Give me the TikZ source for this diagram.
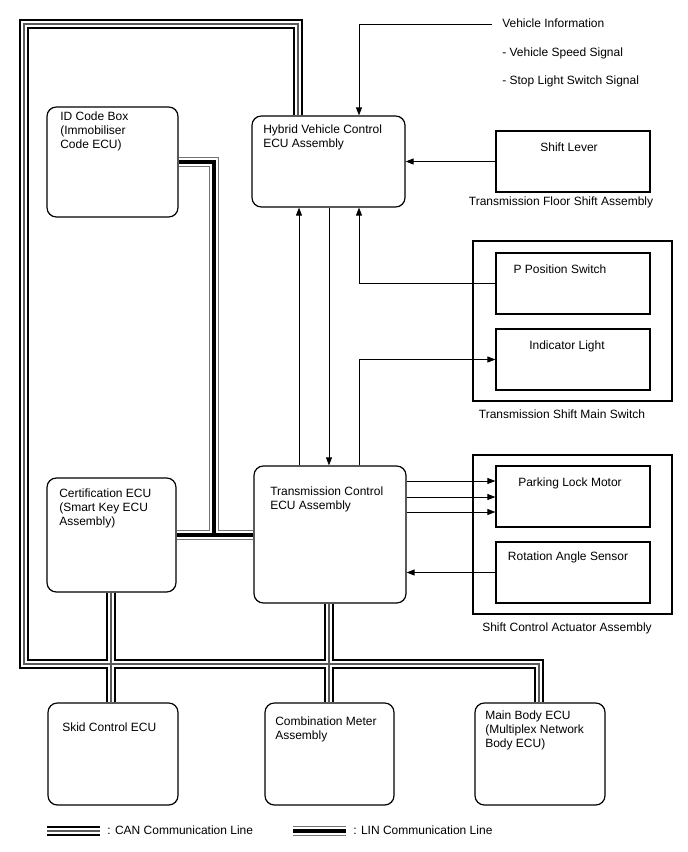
\documentclass[tikz,border=0pt]{standalone}
\usepackage{fontspec}
\setmainfont{Liberation Sans}
\usetikzlibrary{arrows.meta,fit,backgrounds}
\begin{document}
\begin{tikzpicture}[x=0.75pt,y=-0.75pt,
  ecu/.style={draw,line width=0.9pt,rounded corners=7pt,fill=white,inner sep=0pt},
  part/.style={draw,line width=0.9pt,fill=white,inner sep=0pt},
  grp/.style={draw,line width=0.9pt,inner sep=0pt},
  txt/.style={font=\fontsize{9}{10.5}\selectfont,inner sep=0pt,align=left},
  arr/.style={line width=0.6pt,-{Triangle[length=6pt,width=4.5pt]}},
  canout/.style={line width=7.5pt,black},
  canin/.style={line width=4.8pt,white},
  cancen/.style={line width=0.9pt,black!65},
  linout/.style={line width=7.5pt,black!55},
  linin/.style={line width=6pt,white},
  lincen/.style={line width=3.6pt,black},
]
\useasboundingbox (0,0) rectangle (688,852);

% boxes
\node[ecu, fit={(47,107)(178,217)}] (idbox) {};
\node[ecu, fit={(252,116)(405,207)}] (hv) {};
\node[part, fit={(496,131)(650,192)}] (lever) {};
\node[grp, fit={(473,241)(672,401)}] (tsms) {};
\node[part, fit={(496,253)(650,314)}] (pps) {};
\node[part, fit={(496,329)(650,390)}] (ind) {};
\node[ecu, fit={(254,466)(406,603)}] (tcu) {};
\node[ecu, fit={(47,478)(176,592)}] (cert) {};
\node[grp, fit={(473,455)(672,614)}] (scaa) {};
\node[part, fit={(496,466)(650,527)}] (plm) {};
\node[part, fit={(496,542)(650,603)}] (ras) {};
\node[ecu, fit={(48,703)(178,805)}] (skid) {};
\node[ecu, fit={(265,703)(394,805)}] (comb) {};
\node[ecu, fit={(475,703)(605,805)}] (mb) {};

% coordinates
\coordinate (cA) at (298,24);
\coordinate (cB) at (24,24);
\coordinate (cC) at (24,664);
\coordinate (cD) at (539,664);
\coordinate (cE) at (111,0);
\coordinate (cF) at (329,0);
\coordinate (lB) at (214,535);
\coordinate (lgc1) at (47,831);
\coordinate (lgc2) at (100,831);
\coordinate (lgl1) at (293,831);
\coordinate (lgl2) at (346,831);

\begin{scope}[on background layer]
\foreach \s in {canout,canin,cancen}{
  \draw[\s] (cA |- hv.north) -- (cA) -- (cB) -- (cC) -- (cD) -- (cD |- mb.north)
    (cE |- cert.south) -- (cE |- skid.north)
    (cF |- tcu.south) -- (cF |- comb.north)
    (lgc1) -- (lgc2);
}
\foreach \s in {linout,linin,lincen}{
  \draw[\s] (idbox.east) -| (lB)
    (cert.east) -- (tcu.west |- cert.east)
    (lgl1) -- (lgl2);
}
\end{scope}

% texts (base anchor = baseline of the last line)
\node[txt,anchor=base west] (idtxt) at (60,149) {ID Code Box\\(Immobiliser\\Code ECU)};
\node[txt,anchor=base west] (hvtxt) at (263,148) {Hybrid Vehicle Control\\ECU Assembly};
\node[txt,anchor=base west] (certtxt) at (59,525) {Certification ECU\\(Smart Key ECU\\Assembly)};
\node[txt,anchor=base west] (tcutxt) at (270,509) {Transmission Control\\ECU Assembly};
\node[txt,anchor=base west] (skidtxt) at (62,731) {Skid Control ECU};
\node[txt,anchor=base west] (combtxt) at (275,739) {Combination Meter\\Assembly};
\node[txt,anchor=base west] (mbtxt) at (485,747) {Main Body ECU\\(Multiplex Network\\Body ECU)};
\node[txt,anchor=base] (levertxt) at (569,152) {Shift Lever};
\node[txt,anchor=base] (ppstxt) at (560,273) {P Position Switch};
\node[txt,anchor=base] (indtxt) at (567,349) {Indicator Light};
\node[txt,anchor=base] (plmtxt) at (570,486) {Parking Lock Motor};
\node[txt,anchor=base] (rastxt) at (568,560) {Rotation Angle Sensor};
\node[txt,anchor=base] (tfsa) at (561,206) {Transmission Floor Shift Assembly};
\node[txt,anchor=base] (tsmstxt) at (562,418) {Transmission Shift Main Switch};
\node[txt,anchor=base] (scaatxt) at (567,631) {Shift Control Actuator Assembly};
\node[txt,anchor=base west] (vi) at (502,28) {Vehicle Information};
\node[txt,anchor=base west] (vss) at (502,57) {- Vehicle Speed Signal};
\node[txt,anchor=base west] (sls) at (502,85) {- Stop Light Switch Signal};
\node[txt,anchor=base west] (lgctxt) at (107,834) {: CAN Communication Line};
\node[txt,anchor=base west] (lgltxt) at (353,834) {: LIN Communication Line};

% arrows
\coordinate (xA) at (359,0);
\coordinate (xB) at (299,0);
\coordinate (xC) at (329,0);
\coordinate (vistart) at (492,24);
\coordinate (pa1) at (0,481);
\coordinate (pa2) at (0,497);
\coordinate (pa3) at (0,512);
\draw[arr] (vistart) -| (xA |- hv.north);
\draw[arr] (lever.west) -- (hv.east |- lever.west);
\draw[arr] (pps.west) -| (xA |- hv.south);
\draw[arr] (xA |- tcu.north) |- (ind.west);
\draw[arr] (xB |- tcu.north) -- (xB |- hv.south);
\draw[arr] (xC |- hv.south) -- (xC |- tcu.north);
\draw[arr] (tcu.east |- pa1) -- (plm.west |- pa1);
\draw[arr] (tcu.east |- pa2) -- (plm.west |- pa2);
\draw[arr] (tcu.east |- pa3) -- (plm.west |- pa3);
\draw[arr] (ras.west) -- (tcu.east |- ras.west);
\end{tikzpicture}
\end{document}
